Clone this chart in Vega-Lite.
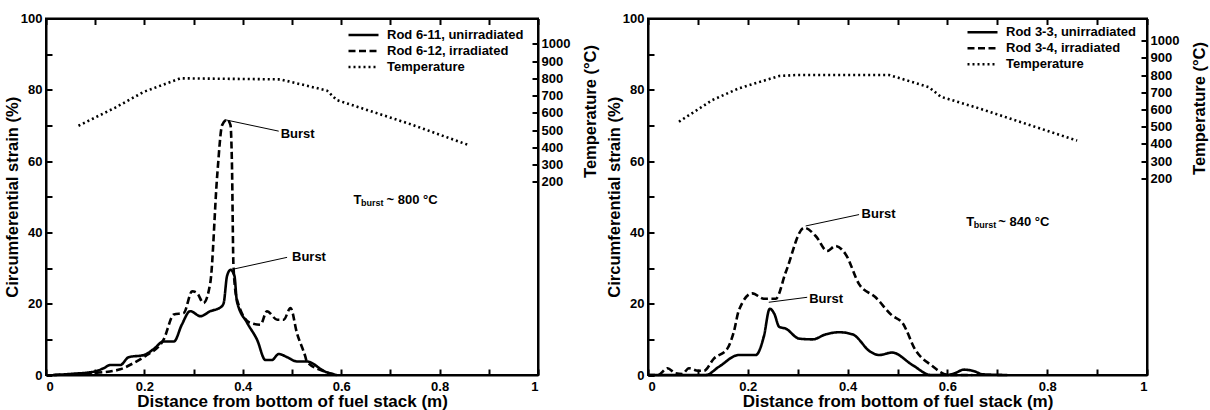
{
  "$schema": "https://vega.github.io/schema/vega-lite/v6.json",
  "padding": {"left": 3, "top": 5.5, "right": 0, "bottom": 0},
  "spacing": 4,
  "columns": 2,
  "align": "none",
  "datasets": {
    "L": [
      {"series": "Rod 6-11, unirradiated", "x": 0.015, "strain": 0},
      {"series": "Rod 6-11, unirradiated", "x": 0.05, "strain": 0.3},
      {"series": "Rod 6-11, unirradiated", "x": 0.1, "strain": 1.0},
      {"series": "Rod 6-11, unirradiated", "x": 0.117, "strain": 1.9},
      {"series": "Rod 6-11, unirradiated", "x": 0.131, "strain": 2.8},
      {"series": "Rod 6-11, unirradiated", "x": 0.151, "strain": 2.8},
      {"series": "Rod 6-11, unirradiated", "x": 0.168, "strain": 5.0},
      {"series": "Rod 6-11, unirradiated", "x": 0.199, "strain": 5.6},
      {"series": "Rod 6-11, unirradiated", "x": 0.219, "strain": 7.3},
      {"series": "Rod 6-11, unirradiated", "x": 0.239, "strain": 9.4},
      {"series": "Rod 6-11, unirradiated", "x": 0.26, "strain": 9.4},
      {"series": "Rod 6-11, unirradiated", "x": 0.276, "strain": 14.1},
      {"series": "Rod 6-11, unirradiated", "x": 0.293, "strain": 17.9},
      {"series": "Rod 6-11, unirradiated", "x": 0.314, "strain": 16.5},
      {"series": "Rod 6-11, unirradiated", "x": 0.334, "strain": 17.9},
      {"series": "Rod 6-11, unirradiated", "x": 0.355, "strain": 19.0},
      {"series": "Rod 6-11, unirradiated", "x": 0.361, "strain": 20.1},
      {"series": "Rod 6-11, unirradiated", "x": 0.368, "strain": 27.8},
      {"series": "Rod 6-11, unirradiated", "x": 0.375, "strain": 29.5},
      {"series": "Rod 6-11, unirradiated", "x": 0.383, "strain": 27.8},
      {"series": "Rod 6-11, unirradiated", "x": 0.388, "strain": 20.7},
      {"series": "Rod 6-11, unirradiated", "x": 0.409, "strain": 14.6},
      {"series": "Rod 6-11, unirradiated", "x": 0.429, "strain": 9.9},
      {"series": "Rod 6-11, unirradiated", "x": 0.446, "strain": 4.2},
      {"series": "Rod 6-11, unirradiated", "x": 0.459, "strain": 4.2},
      {"series": "Rod 6-11, unirradiated", "x": 0.473, "strain": 5.9},
      {"series": "Rod 6-11, unirradiated", "x": 0.49, "strain": 5.0},
      {"series": "Rod 6-11, unirradiated", "x": 0.51, "strain": 3.8},
      {"series": "Rod 6-11, unirradiated", "x": 0.53, "strain": 3.8},
      {"series": "Rod 6-11, unirradiated", "x": 0.568, "strain": 0.9},
      {"series": "Rod 6-11, unirradiated", "x": 0.591, "strain": 0},
      {"series": "Rod 6-12, irradiated", "x": 0.015, "strain": 0},
      {"series": "Rod 6-12, irradiated", "x": 0.1, "strain": 0.6},
      {"series": "Rod 6-12, irradiated", "x": 0.13, "strain": 1.0},
      {"series": "Rod 6-12, irradiated", "x": 0.151, "strain": 1.6},
      {"series": "Rod 6-12, irradiated", "x": 0.18, "strain": 3.5},
      {"series": "Rod 6-12, irradiated", "x": 0.205, "strain": 5.6},
      {"series": "Rod 6-12, irradiated", "x": 0.239, "strain": 9.9},
      {"series": "Rod 6-12, irradiated", "x": 0.26, "strain": 17.0},
      {"series": "Rod 6-12, irradiated", "x": 0.28, "strain": 17.4},
      {"series": "Rod 6-12, irradiated", "x": 0.297, "strain": 23.5},
      {"series": "Rod 6-12, irradiated", "x": 0.307, "strain": 23.0},
      {"series": "Rod 6-12, irradiated", "x": 0.32, "strain": 20.2},
      {"series": "Rod 6-12, irradiated", "x": 0.334, "strain": 25.9},
      {"series": "Rod 6-12, irradiated", "x": 0.348, "strain": 56},
      {"series": "Rod 6-12, irradiated", "x": 0.358, "strain": 70.1},
      {"series": "Rod 6-12, irradiated", "x": 0.368, "strain": 71.6},
      {"series": "Rod 6-12, irradiated", "x": 0.375, "strain": 70.1},
      {"series": "Rod 6-12, irradiated", "x": 0.378, "strain": 58.8},
      {"series": "Rod 6-12, irradiated", "x": 0.381, "strain": 30.6},
      {"series": "Rod 6-12, irradiated", "x": 0.388, "strain": 21.2},
      {"series": "Rod 6-12, irradiated", "x": 0.415, "strain": 14.6},
      {"series": "Rod 6-12, irradiated", "x": 0.436, "strain": 14.1},
      {"series": "Rod 6-12, irradiated", "x": 0.449, "strain": 17.9},
      {"series": "Rod 6-12, irradiated", "x": 0.47, "strain": 15.5},
      {"series": "Rod 6-12, irradiated", "x": 0.483, "strain": 15.5},
      {"series": "Rod 6-12, irradiated", "x": 0.497, "strain": 18.8},
      {"series": "Rod 6-12, irradiated", "x": 0.51, "strain": 11.8},
      {"series": "Rod 6-12, irradiated", "x": 0.527, "strain": 5.2},
      {"series": "Rod 6-12, irradiated", "x": 0.53, "strain": 3.8},
      {"series": "Rod 6-12, irradiated", "x": 0.568, "strain": 0.9},
      {"series": "Rod 6-12, irradiated", "x": 0.591, "strain": 0},
      {"series": "Temperature", "x": 0.066, "temp": 526},
      {"series": "Temperature", "x": 0.14, "temp": 630},
      {"series": "Temperature", "x": 0.199, "temp": 723},
      {"series": "Temperature", "x": 0.273, "temp": 801},
      {"series": "Temperature", "x": 0.476, "temp": 795},
      {"series": "Temperature", "x": 0.52, "temp": 765},
      {"series": "Temperature", "x": 0.571, "temp": 730},
      {"series": "Temperature", "x": 0.591, "temp": 675},
      {"series": "Temperature", "x": 0.741, "temp": 535},
      {"series": "Temperature", "x": 0.859, "temp": 414}
    ],
    "LA": [
      {"kind": "line", "x": 0.364, "strain": 71.6, "x2": 0.473, "strain2": 68.4},
      {"kind": "line", "x": 0.381, "strain": 29.7, "x2": 0.49, "strain2": 33.0},
      {"kind": "burst", "x": 0.477, "strain": 67.5, "label": "Burst"},
      {"kind": "burst", "x": 0.5, "strain": 33.2, "label": "Burst"},
      {"kind": "t", "x": 0.625, "strain": 48.0, "label": "T"},
      {"kind": "sub", "x": 0.625, "strain": 48.0, "label": "burst"},
      {"kind": "rest", "x": 0.625, "strain": 48.0, "label": "~ 800 °C"}
    ],
    "R": [
      {"series": "Rod 3-3, unirradiated", "x": 0.0, "strain": 0},
      {"series": "Rod 3-3, unirradiated", "x": 0.116, "strain": 0},
      {"series": "Rod 3-3, unirradiated", "x": 0.142, "strain": 2.3},
      {"series": "Rod 3-3, unirradiated", "x": 0.182, "strain": 5.6},
      {"series": "Rod 3-3, unirradiated", "x": 0.216, "strain": 5.6},
      {"series": "Rod 3-3, unirradiated", "x": 0.232, "strain": 10.7},
      {"series": "Rod 3-3, unirradiated", "x": 0.244, "strain": 18.6},
      {"series": "Rod 3-3, unirradiated", "x": 0.253, "strain": 17.2},
      {"series": "Rod 3-3, unirradiated", "x": 0.263, "strain": 13.5},
      {"series": "Rod 3-3, unirradiated", "x": 0.276, "strain": 13.0},
      {"series": "Rod 3-3, unirradiated", "x": 0.303, "strain": 10.2},
      {"series": "Rod 3-3, unirradiated", "x": 0.33, "strain": 10.0},
      {"series": "Rod 3-3, unirradiated", "x": 0.356, "strain": 11.4},
      {"series": "Rod 3-3, unirradiated", "x": 0.383, "strain": 12.0},
      {"series": "Rod 3-3, unirradiated", "x": 0.41, "strain": 11.4},
      {"series": "Rod 3-3, unirradiated", "x": 0.446, "strain": 6.5},
      {"series": "Rod 3-3, unirradiated", "x": 0.463, "strain": 5.6},
      {"series": "Rod 3-3, unirradiated", "x": 0.489, "strain": 6.3},
      {"series": "Rod 3-3, unirradiated", "x": 0.53, "strain": 2.8},
      {"series": "Rod 3-3, unirradiated", "x": 0.567, "strain": 0},
      {"series": "Rod 3-3, unirradiated", "x": 0.6, "strain": 0},
      {"series": "Rod 3-3, unirradiated", "x": 0.615, "strain": 0.5},
      {"series": "Rod 3-3, unirradiated", "x": 0.633, "strain": 1.5},
      {"series": "Rod 3-3, unirradiated", "x": 0.655, "strain": 1.0},
      {"series": "Rod 3-3, unirradiated", "x": 0.67, "strain": 0.2},
      {"series": "Rod 3-3, unirradiated", "x": 0.72, "strain": 0},
      {"series": "Rod 3-4, irradiated", "x": 0.0, "strain": 0},
      {"series": "Rod 3-4, irradiated", "x": 0.02, "strain": 0},
      {"series": "Rod 3-4, irradiated", "x": 0.039, "strain": 1.9},
      {"series": "Rod 3-4, irradiated", "x": 0.055, "strain": 0.5},
      {"series": "Rod 3-4, irradiated", "x": 0.069, "strain": 0.3},
      {"series": "Rod 3-4, irradiated", "x": 0.082, "strain": 1.9},
      {"series": "Rod 3-4, irradiated", "x": 0.1, "strain": 1.2},
      {"series": "Rod 3-4, irradiated", "x": 0.112, "strain": 1.2},
      {"series": "Rod 3-4, irradiated", "x": 0.132, "strain": 4.6},
      {"series": "Rod 3-4, irradiated", "x": 0.159, "strain": 7.4},
      {"series": "Rod 3-4, irradiated", "x": 0.172, "strain": 12.1},
      {"series": "Rod 3-4, irradiated", "x": 0.182, "strain": 18.1},
      {"series": "Rod 3-4, irradiated", "x": 0.209, "strain": 22.9},
      {"series": "Rod 3-4, irradiated", "x": 0.232, "strain": 21.4},
      {"series": "Rod 3-4, irradiated", "x": 0.256, "strain": 21.4},
      {"series": "Rod 3-4, irradiated", "x": 0.276, "strain": 28.8},
      {"series": "Rod 3-4, irradiated", "x": 0.313, "strain": 41.3},
      {"series": "Rod 3-4, irradiated", "x": 0.336, "strain": 39},
      {"series": "Rod 3-4, irradiated", "x": 0.359, "strain": 34.8},
      {"series": "Rod 3-4, irradiated", "x": 0.376, "strain": 36.2},
      {"series": "Rod 3-4, irradiated", "x": 0.396, "strain": 33.9},
      {"series": "Rod 3-4, irradiated", "x": 0.423, "strain": 25.5},
      {"series": "Rod 3-4, irradiated", "x": 0.456, "strain": 21.8},
      {"series": "Rod 3-4, irradiated", "x": 0.489, "strain": 16.7},
      {"series": "Rod 3-4, irradiated", "x": 0.51, "strain": 14.6},
      {"series": "Rod 3-4, irradiated", "x": 0.536, "strain": 7.0},
      {"series": "Rod 3-4, irradiated", "x": 0.567, "strain": 2.8},
      {"series": "Rod 3-4, irradiated", "x": 0.603, "strain": 0},
      {"series": "Rod 3-4, irradiated", "x": 0.65, "strain": 0},
      {"series": "Temperature", "x": 0.062, "temp": 529},
      {"series": "Temperature", "x": 0.129, "temp": 655},
      {"series": "Temperature", "x": 0.182, "temp": 723},
      {"series": "Temperature", "x": 0.263, "temp": 795},
      {"series": "Temperature", "x": 0.3, "temp": 801},
      {"series": "Temperature", "x": 0.483, "temp": 801},
      {"series": "Temperature", "x": 0.563, "temp": 730},
      {"series": "Temperature", "x": 0.587, "temp": 674},
      {"series": "Temperature", "x": 0.663, "temp": 607},
      {"series": "Temperature", "x": 0.86, "temp": 419}
    ],
    "RA": [
      {"kind": "line", "x": 0.316, "strain": 41.8, "x2": 0.423, "strain2": 45.0},
      {"kind": "line", "x": 0.242, "strain": 20.4, "x2": 0.319, "strain2": 21.8},
      {"kind": "burst", "x": 0.428, "strain": 45.1, "label": "Burst"},
      {"kind": "burst", "x": 0.323, "strain": 21.4, "label": "Burst"},
      {"kind": "t", "x": 0.638, "strain": 41.8, "label": "T"},
      {"kind": "sub", "x": 0.638, "strain": 41.8, "label": "burst"},
      {"kind": "rest", "x": 0.638, "strain": 41.8, "label": "~ 840 °C"}
    ]
  },
  "concat": [
    {
      "width": 492,
      "height": 356.5,
      "layer": [
        {
          "data": {"name": "L"},
          "transform": [{"filter": "datum.series != 'Temperature'"}],
          "mark": {"type": "line", "color": "black", "strokeWidth": 2.6, "interpolate": "monotone"},
          "encoding": {
            "x": {"field": "x", "type": "quantitative", "scale": {"domain": [0, 1], "nice": false},
              "axis": {"orient": "bottom", "values": [0, 0.1, 0.2, 0.3, 0.4, 0.5, 0.6, 0.7, 0.8, 0.9, 1], "format": "~g",
                "labelExpr": "round(datum.value*10)%2==0 ? datum.label : ''",
                "title": "Distance from bottom of fuel stack (m)", "labelPadding": 11, "titlePadding": 0}},
            "y": {"field": "strain", "type": "quantitative", "scale": {"domain": [0, 100], "nice": false},
              "axis": {"orient": "left", "values": [0, 10, 20, 30, 40, 50, 60, 70, 80, 90, 100],
                "labelExpr": "datum.value%20==0 ? datum.label : ''",
                "title": "Circumferential strain (%)", "labelPadding": 10, "titlePadding": 0}},
            "strokeDash": {"field": "series", "type": "nominal",
              "scale": {"domain": ["Rod 6-11, unirradiated", "Rod 6-12, irradiated", "Temperature"], "range": [[1, 0], [7, 3.5], [2, 3]]},
              "legend": {"orient": "none", "legendX": 301, "legendY": 10, "title": null}}
          }
        },
        {
          "data": {"name": "L"},
          "transform": [{"filter": "datum.series == 'Temperature'"}],
          "mark": {"type": "line", "color": "black", "strokeWidth": 2.6},
          "encoding": {
            "x": {"field": "x", "type": "quantitative", "scale": {"domain": [0, 1], "nice": false},
              "axis": {"orient": "top", "values": [0, 0.1, 0.2, 0.3, 0.4, 0.5, 0.6, 0.7, 0.8, 0.9, 1], "labels": false, "title": null}},
            "y": {"field": "temp", "type": "quantitative", "scale": {"domain": [-918.9, 1147.8], "nice": false, "zero": false},
              "axis": {"orient": "right", "values": [200, 300, 400, 500, 600, 700, 800, 900, 1000], "format": "d",
                "title": "Temperature (°C)", "titleAngle": 270, "titleBaseline": "top", "titleY": 92.5, "labelPadding": 9, "titlePadding": 13}},
            "strokeDash": {"field": "series", "type": "nominal",
              "scale": {"domain": ["Rod 6-11, unirradiated", "Rod 6-12, irradiated", "Temperature"], "range": [[1, 0], [7, 3.5], [2, 3]]},
              "legend": {"orient": "none", "legendX": 301, "legendY": 10, "title": null}}
          }
        },
        {
          "data": {"name": "LA"},
          "transform": [{"filter": "datum.kind == 'line'"}],
          "mark": {"type": "rule", "color": "black", "strokeWidth": 1},
          "encoding": {
            "x": {"field": "x", "type": "quantitative", "scale": {"domain": [0, 1], "nice": false}, "axis": null},
            "x2": {"field": "x2"},
            "y": {"field": "strain", "type": "quantitative", "scale": {"domain": [0, 100], "nice": false}, "axis": null},
            "y2": {"field": "strain2"}
          }
        },
        {
          "data": {"name": "LA"},
          "transform": [{"filter": "datum.kind == 'burst'"}],
          "mark": {"type": "text", "font": "Liberation Sans", "fontWeight": "bold", "fontSize": 13, "align": "left", "baseline": "middle", "color": "black"},
          "encoding": {
            "x": {"field": "x", "type": "quantitative", "scale": {"domain": [0, 1], "nice": false}, "axis": null},
            "y": {"field": "strain", "type": "quantitative", "scale": {"domain": [0, 100], "nice": false}, "axis": null},
            "text": {"field": "label"}
          }
        },
        {
          "data": {"name": "LA"},
          "transform": [{"filter": "datum.kind == 't'"}],
          "mark": {"type": "text", "font": "Liberation Sans", "fontWeight": "bold", "fontSize": 13, "align": "left", "baseline": "alphabetic", "color": "black"},
          "encoding": {
            "x": {"field": "x", "type": "quantitative", "scale": {"domain": [0, 1], "nice": false},
              "axis": {"orient": "top", "values": [0.5], "labels": false, "domain": false, "title": null, "tickSize": 12, "tickColor": "#000000", "tickOpacity": 0}},
            "y": {"field": "strain", "type": "quantitative", "scale": {"domain": [0, 100], "nice": false}, "axis": null},
            "text": {"field": "label"}
          }
        },
        {
          "data": {"name": "LA"},
          "transform": [{"filter": "datum.kind == 'sub'"}],
          "mark": {"type": "text", "font": "Liberation Sans", "fontWeight": "bold", "fontSize": 9, "align": "left", "baseline": "alphabetic", "color": "black", "dx": 7.5, "dy": 2.5},
          "encoding": {
            "x": {"field": "x", "type": "quantitative", "scale": {"domain": [0, 1], "nice": false}, "axis": null},
            "y": {"field": "strain", "type": "quantitative", "scale": {"domain": [0, 100], "nice": false}, "axis": null},
            "text": {"field": "label"}
          }
        },
        {
          "data": {"name": "LA"},
          "transform": [{"filter": "datum.kind == 'rest'"}],
          "mark": {"type": "text", "font": "Liberation Sans", "fontWeight": "bold", "fontSize": 13, "align": "left", "baseline": "alphabetic", "color": "black", "dx": 33},
          "encoding": {
            "x": {"field": "x", "type": "quantitative", "scale": {"domain": [0, 1], "nice": false}, "axis": null},
            "y": {"field": "strain", "type": "quantitative", "scale": {"domain": [0, 100], "nice": false}, "axis": null},
            "text": {"field": "label"}
          }
        }
      ],
      "resolve": {"scale": {"y": "independent"}, "axis": {"x": "independent", "y": "independent"}}
    },
    {
      "width": 499,
      "height": 356.5,
      "layer": [
        {
          "data": {"name": "R"},
          "transform": [{"filter": "datum.series != 'Temperature'"}],
          "mark": {"type": "line", "color": "black", "strokeWidth": 2.6, "interpolate": "monotone"},
          "encoding": {
            "x": {"field": "x", "type": "quantitative", "scale": {"domain": [0, 1], "nice": false},
              "axis": {"orient": "bottom", "values": [0, 0.1, 0.2, 0.3, 0.4, 0.5, 0.6, 0.7, 0.8, 0.9, 1], "format": "~g",
                "labelExpr": "round(datum.value*10)%2==0 ? datum.label : ''",
                "title": "Distance from bottom of fuel stack (m)", "labelPadding": 11, "titlePadding": 0}},
            "y": {"field": "strain", "type": "quantitative", "scale": {"domain": [0, 100], "nice": false},
              "axis": {"orient": "left", "values": [0, 10, 20, 30, 40, 50, 60, 70, 80, 90, 100],
                "labelExpr": "datum.value%20==0 ? datum.label : ''",
                "title": "Circumferential strain (%)", "labelPadding": 10, "titlePadding": 0}},
            "strokeDash": {"field": "series", "type": "nominal",
              "scale": {"domain": ["Rod 3-3, unirradiated", "Rod 3-4, irradiated", "Temperature"], "range": [[1, 0], [7, 3.5], [2, 3]]},
              "legend": {"orient": "none", "legendX": 318, "legendY": 7.3, "title": null}}
          }
        },
        {
          "data": {"name": "R"},
          "transform": [{"filter": "datum.series == 'Temperature'"}],
          "mark": {"type": "line", "color": "black", "strokeWidth": 2.6},
          "encoding": {
            "x": {"field": "x", "type": "quantitative", "scale": {"domain": [0, 1], "nice": false},
              "axis": {"orient": "top", "values": [0, 0.1, 0.2, 0.3, 0.4, 0.5, 0.6, 0.7, 0.8, 0.9, 1], "labels": false, "title": null}},
            "y": {"field": "temp", "type": "quantitative", "scale": {"domain": [-943.6, 1129.1], "nice": false, "zero": false},
              "axis": {"orient": "right", "values": [200, 300, 400, 500, 600, 700, 800, 900, 1000], "format": "d",
                "title": "Temperature (°C)", "titleAngle": 270, "titleBaseline": "top", "titleY": 89.5, "labelPadding": 9, "titlePadding": 13}},
            "strokeDash": {"field": "series", "type": "nominal",
              "scale": {"domain": ["Rod 3-3, unirradiated", "Rod 3-4, irradiated", "Temperature"], "range": [[1, 0], [7, 3.5], [2, 3]]},
              "legend": {"orient": "none", "legendX": 318, "legendY": 7.3, "title": null}}
          }
        },
        {
          "data": {"name": "RA"},
          "transform": [{"filter": "datum.kind == 'line'"}],
          "mark": {"type": "rule", "color": "black", "strokeWidth": 1},
          "encoding": {
            "x": {"field": "x", "type": "quantitative", "scale": {"domain": [0, 1], "nice": false}, "axis": null},
            "x2": {"field": "x2"},
            "y": {"field": "strain", "type": "quantitative", "scale": {"domain": [0, 100], "nice": false}, "axis": null},
            "y2": {"field": "strain2"}
          }
        },
        {
          "data": {"name": "RA"},
          "transform": [{"filter": "datum.kind == 'burst'"}],
          "mark": {"type": "text", "font": "Liberation Sans", "fontWeight": "bold", "fontSize": 13, "align": "left", "baseline": "middle", "color": "black"},
          "encoding": {
            "x": {"field": "x", "type": "quantitative", "scale": {"domain": [0, 1], "nice": false}, "axis": null},
            "y": {"field": "strain", "type": "quantitative", "scale": {"domain": [0, 100], "nice": false}, "axis": null},
            "text": {"field": "label"}
          }
        },
        {
          "data": {"name": "RA"},
          "transform": [{"filter": "datum.kind == 't'"}],
          "mark": {"type": "text", "font": "Liberation Sans", "fontWeight": "bold", "fontSize": 13, "align": "left", "baseline": "alphabetic", "color": "black"},
          "encoding": {
            "x": {"field": "x", "type": "quantitative", "scale": {"domain": [0, 1], "nice": false}, "axis": null},
            "y": {"field": "strain", "type": "quantitative", "scale": {"domain": [0, 100], "nice": false}, "axis": null},
            "text": {"field": "label"}
          }
        },
        {
          "data": {"name": "RA"},
          "transform": [{"filter": "datum.kind == 'sub'"}],
          "mark": {"type": "text", "font": "Liberation Sans", "fontWeight": "bold", "fontSize": 9, "align": "left", "baseline": "alphabetic", "color": "black", "dx": 7.5, "dy": 2.5},
          "encoding": {
            "x": {"field": "x", "type": "quantitative", "scale": {"domain": [0, 1], "nice": false}, "axis": null},
            "y": {"field": "strain", "type": "quantitative", "scale": {"domain": [0, 100], "nice": false}, "axis": null},
            "text": {"field": "label"}
          }
        },
        {
          "data": {"name": "RA"},
          "transform": [{"filter": "datum.kind == 'rest'"}],
          "mark": {"type": "text", "font": "Liberation Sans", "fontWeight": "bold", "fontSize": 13, "align": "left", "baseline": "alphabetic", "color": "black", "dx": 32},
          "encoding": {
            "x": {"field": "x", "type": "quantitative", "scale": {"domain": [0, 1], "nice": false}, "axis": null},
            "y": {"field": "strain", "type": "quantitative", "scale": {"domain": [0, 100], "nice": false}, "axis": null},
            "text": {"field": "label"}
          }
        }
      ],
      "resolve": {"scale": {"y": "independent"}, "axis": {"x": "independent", "y": "independent"}}
    }
  ],
  "resolve": {"scale": {"strokeDash": "independent"}, "legend": {"strokeDash": "independent"}},
  "config": {
    "font": "Liberation Sans",
    "view": {"stroke": "#000000", "strokeWidth": 2, "strokeOpacity": 1},
    "axis": {
      "grid": false, "domain": true, "ticks": true,
      "domainColor": "#000000", "domainWidth": 2, "domainOpacity": 1,
      "tickColor": "#000000", "tickWidth": 2, "tickSize": -6, "tickOpacity": 1,
      "labelFont": "Liberation Sans", "labelFontSize": 13, "labelFontWeight": "bold", "labelColor": "black",
      "titleFont": "Liberation Sans", "titleFontSize": 16.5, "titleFontWeight": "bold", "titleColor": "black"
    },
    "axisX": {"titleFontSize": 17},
    "legend": {
      "symbolType": "stroke", "symbolSize": 900, "clipHeight": 13, "symbolStrokeWidth": 2.5, "symbolStrokeColor": "black",
      "labelFont": "Liberation Sans", "labelFontSize": 13, "labelFontWeight": "bold", "labelColor": "black",
      "labelOffset": 7, "rowPadding": 2, "padding": 0
    }
  }
}
